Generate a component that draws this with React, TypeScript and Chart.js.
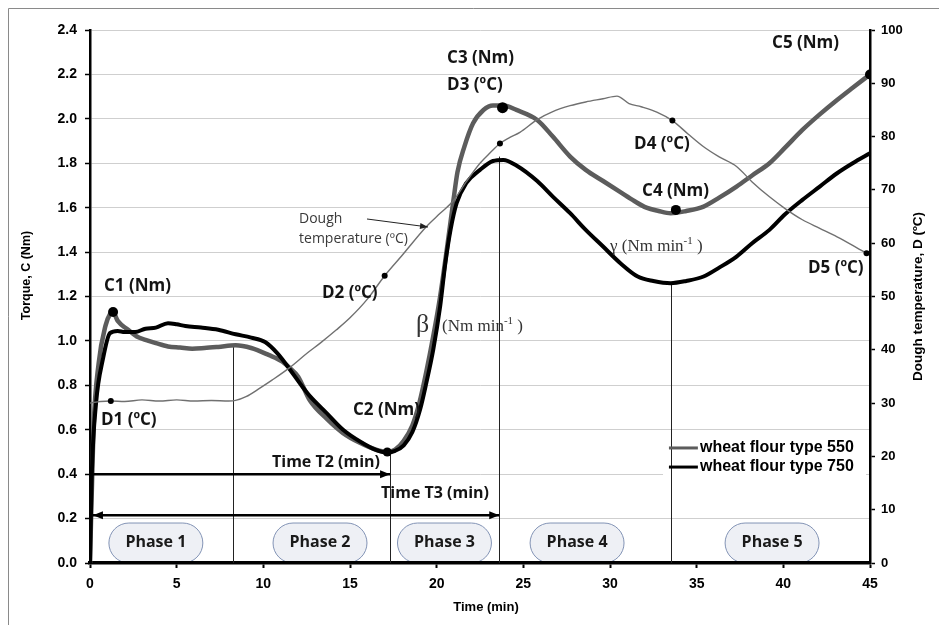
import React, { useEffect, useRef } from "react";
import { Chart, registerables } from "chart.js";

Chart.register(...registerables);

// ---------- data ----------
const flour550Time = [0, 0.2, 0.5, 0.9, 1.15, 1.33, 1.6, 2.2, 2.7, 3.2, 3.8, 4.5, 5.2, 5.9, 6.6, 7.4, 8.4, 9.3, 10.3, 11.1, 11.5, 12.0, 12.7, 13.65, 14.6, 15.6, 16.5, 17.1, 17.6, 18.1, 18.6, 19.0, 19.4, 19.8, 20.2, 20.6, 20.97, 21.2, 21.6, 22.1, 22.7, 23.25, 23.85, 24.6, 25.8, 26.7, 27.7, 28.6, 29.6, 30.6, 31.4, 32.1, 32.8, 33.5, 34.4, 35.4, 36.3, 37.3, 38.2, 39.2, 40.1, 41.1, 42.1, 43.1, 44.0, 45];
const flour550Torque = [0, 0.6, 0.9, 1.07, 1.12, 1.13, 1.09, 1.05, 1.02, 1.005, 0.99, 0.975, 0.97, 0.965, 0.968, 0.973, 0.98, 0.968, 0.937, 0.907, 0.88, 0.84, 0.73, 0.65, 0.585, 0.54, 0.51, 0.5, 0.51, 0.55, 0.62, 0.72, 0.86, 1.02, 1.2, 1.42, 1.635, 1.76, 1.875, 1.98, 2.04, 2.06, 2.06, 2.04, 1.995, 1.92, 1.83, 1.77, 1.72, 1.67, 1.63, 1.6, 1.585, 1.575, 1.585, 1.605, 1.645, 1.695, 1.745, 1.8, 1.87, 1.95, 2.02, 2.085, 2.14, 2.2];

const flour750Time = [0, 0.1, 0.35, 0.75, 1.15, 1.6, 2.0, 2.6, 3.2, 3.8, 4.5, 5.0, 5.5, 6.4, 7.4, 8.4, 9.3, 10.1, 10.8, 11.5, 12.1, 12.7, 13.65, 14.6, 15.6, 16.5, 17.1, 17.6, 18.1, 18.6, 19.04, 19.4, 19.8, 20.2, 20.5, 20.8, 21.15, 21.7, 22.5, 23.25, 23.85, 24.6, 25.8, 26.7, 27.7, 28.6, 29.6, 30.6, 31.6, 32.5, 33.5, 34.4, 35.4, 36.3, 37.3, 38.2, 39.2, 40.1, 41.1, 42.1, 43.1, 44.0, 45];
const flour750Torque = [0, 0.39, 0.72, 0.92, 1.035, 1.045, 1.04, 1.04, 1.055, 1.06, 1.08, 1.075, 1.067, 1.06, 1.05, 1.03, 1.015, 0.995, 0.945, 0.875, 0.81, 0.75, 0.675, 0.6, 0.546, 0.509, 0.497, 0.505, 0.53, 0.59, 0.69, 0.81, 0.96, 1.155, 1.35, 1.5, 1.62, 1.71, 1.77, 1.81, 1.815, 1.79, 1.72, 1.65, 1.575, 1.5, 1.425, 1.35, 1.29, 1.27, 1.26, 1.27, 1.29, 1.33, 1.38, 1.44, 1.5, 1.57, 1.635, 1.695, 1.755, 1.8, 1.845];

const tempTime = [0, 0.6, 1.2, 2, 3, 4, 5, 6, 7, 8, 8.4, 9, 9.8, 10.5, 11.5, 12.5, 13.3, 14.2, 15, 16, 17, 18, 19.4, 20.2, 21, 21.7, 22.5, 23.1, 23.65, 24.2, 24.8, 25.8, 26.7, 27.7, 28.6, 29.6, 30.4, 31.1, 31.8, 32.7, 33.6, 34.5, 35.4, 36.3, 37.3, 38.2, 39.2, 40.1, 41.1, 42.1, 43.1, 44, 44.8];
const tempValue = [30.0, 30.3, 30.4, 30.3, 30.6, 30.4, 30.6, 30.4, 30.5, 30.4, 30.5, 31.2, 32.8, 34.3, 36.6, 39.3, 41.3, 43.7, 46.0, 49.5, 53.9, 57.7, 63.1, 65.6, 68.1, 71.5, 75.0, 77.0, 78.7, 79.8, 80.8, 83.2, 84.7, 85.8, 86.5, 87.1, 87.6, 86.2, 85.6, 84.6, 83.0, 80.5, 78.1, 76.2, 74.4, 71.5, 68.7, 66.5, 64.4, 62.8, 61.2, 59.6, 58.1];

const cPointTime = [1.33, 17.15, 23.8, 33.8, 45];
const cPointTorque = [1.13, 0.5, 2.05, 1.59, 2.2];
const cPointLabels = ["C1 (Nm)", "C2 (Nm)", "C3 (Nm)", "C4 (Nm)", "C5 (Nm)"];
const dPointTime = [1.2, 17.0, 23.65, 33.6, 44.8];
const dPointTemp = [30.4, 53.9, 78.7, 83.0, 58.1];
const dPointLabels = ["D1 (\u00baC)", "D2 (\u00baC)", "D3 (\u00baC)", "D4 (\u00baC)", "D5 (\u00baC)"];

const phaseLabels = ["Phase 1", "Phase 2", "Phase 3", "Phase 4", "Phase 5"];
const phaseCenters = [3.8, 13.27, 20.45, 28.1, 39.35];
const phaseBoundaryTime = [8.27, 17.31, 23.61, 33.5];
const phaseBoundaryTorque = [0.98, 0.5, 1.83, 1.26];

const timeT2 = 17.31;
const timeT3 = 23.61;
const seriesLabels = ["wheat flour type 550", "wheat flour type 750"];
const xTitle = "Time (min)";
const yTitle = "Torque, C (Nm)";
const y2Title = "Dough temperature, D (\u00baC)";

const pts = (xs: number[], ys: number[]) => xs.map((x, i) => ({ x, y: ys[i] }));

const GRAY = "#5c5c5c";
const SANS = "'Liberation Sans', Arial, sans-serif";
const OPEN = "'Open Sans', 'Noto Sans', sans-serif";
const SERIF = "'Liberation Serif', 'DejaVu Serif', serif";

function arrow(ctx: CanvasRenderingContext2D, x1: number, y1: number, x2: number, y2: number, startHead: boolean, endHead: boolean, lw: number, hl: number, hw: number) {
  ctx.lineWidth = lw;
  ctx.beginPath();
  ctx.moveTo(x1, y1);
  ctx.lineTo(x2, y2);
  ctx.stroke();
  const ang = Math.atan2(y2 - y1, x2 - x1);
  const head = (x: number, y: number, a: number) => {
    ctx.beginPath();
    ctx.moveTo(x, y);
    ctx.lineTo(x - hl * Math.cos(a) + hw * Math.sin(a), y - hl * Math.sin(a) - hw * Math.cos(a));
    ctx.lineTo(x - hl * Math.cos(a) - hw * Math.sin(a), y - hl * Math.sin(a) + hw * Math.cos(a));
    ctx.closePath();
    ctx.fill();
  };
  if (endHead) head(x2, y2, ang);
  if (startHead) head(x1, y1, ang + Math.PI);
}

function supText(ctx: CanvasRenderingContext2D, x: number, y: number, main: string, sup: string, tail: string, size: number) {
  ctx.textAlign = "left";
  ctx.textBaseline = "middle";
  ctx.font = `${size}px ${SERIF}`;
  ctx.fillText(main, x, y);
  let cx = x + ctx.measureText(main).width;
  ctx.font = `${Math.round(size * 0.62)}px ${SERIF}`;
  ctx.fillText(sup, cx, y - size * 0.32);
  cx += ctx.measureText(sup).width;
  ctx.font = `${size}px ${SERIF}`;
  ctx.fillText(tail, cx, y);
}

export default function App() {
  const ref = useRef<HTMLCanvasElement>(null);

  useEffect(() => {
    const canvas = ref.current!;
    const overlay = {
      id: "overlay",
      beforeDatasetsDraw(chart: any) {
        const { ctx, chartArea } = chart;
        const xs = chart.scales.x, ys = chart.scales.y;
        const X = (v: number) => xs.getPixelForValue(v);
        const Y = (v: number) => ys.getPixelForValue(v);
        ctx.save();
        // legend background
        ctx.fillStyle = "#ffffff";
        ctx.fillRect(X(33.06), Y(0.567), X(44.77) - X(33.06), Y(0.374) - Y(0.567));
        // phase boundaries
        ctx.strokeStyle = "#222";
        ctx.lineWidth = 1;
        phaseBoundaryTime.forEach((t, i) => {
          const px = Math.round(X(t)) + 0.5;
          ctx.beginPath();
          ctx.moveTo(px, Y(0));
          ctx.lineTo(px, Y(phaseBoundaryTorque[i]));
          ctx.stroke();
        });
        // phase pills
        ctx.save();
        ctx.beginPath();
        ctx.rect(chartArea.left, chartArea.top, chartArea.right - chartArea.left, Y(0) - 2 - chartArea.top);
        ctx.clip();
        phaseCenters.forEach((c, i) => {
          const l = X(c - 2.71), r = X(c + 2.71);
          const top = Y(0.18), bot = Y(0);
          const rad = (bot - top) / 2;
          const my = (top + bot) / 2;
          ctx.beginPath();
          ctx.moveTo(l + rad, top);
          ctx.lineTo(r - rad, top);
          ctx.arc(r - rad, my, rad, -Math.PI / 2, Math.PI / 2);
          ctx.lineTo(l + rad, bot);
          ctx.arc(l + rad, my, rad, Math.PI / 2, (3 * Math.PI) / 2);
          ctx.closePath();
          ctx.fillStyle = "#eef0f5";
          ctx.fill();
          ctx.strokeStyle = "#8293b5";
          ctx.lineWidth = 1;
          ctx.stroke();
          ctx.fillStyle = "#1a1a1a";
          ctx.font = `bold 16px ${OPEN}`;
          ctx.textAlign = "center";
          ctx.textBaseline = "middle";
          ctx.fillText(phaseLabels[i], X(c), my - 1);
        });
        ctx.restore();
        ctx.restore();
      },
      afterDatasetsDraw(chart: any) {
        const { ctx } = chart;
        const xs = chart.scales.x, ys = chart.scales.y;
        const X = (v: number) => xs.getPixelForValue(v);
        const Y = (v: number) => ys.getPixelForValue(v);
        ctx.save();
        ctx.fillStyle = "#000";
        ctx.strokeStyle = "#000";
        // T2 and T3 arrows
        arrow(ctx, X(0), Y(0.4), X(timeT2), Y(0.4), false, true, 2.5, 10, 4);
        arrow(ctx, X(0.17), Y(0.215), X(timeT3), Y(0.215), true, true, 2.5, 10, 4);
        // dough temperature pointer
        ctx.strokeStyle = "#222";
        ctx.fillStyle = "#222";
        arrow(ctx, X(15.98), Y(1.549), X(19.5), Y(1.513), false, true, 1, 8, 3);

        // annotation labels
        ctx.fillStyle = "#141414";
        ctx.textAlign = "left";
        ctx.textBaseline = "middle";
        ctx.font = `bold 17px ${OPEN}`;
        const cPos = [[0.81, 1.247], [15.17, 0.689], [20.6, 2.274], [31.85, 1.675], [39.35, 2.342]];
        const dPos = [[0.63, 0.644], [13.38, 1.216], [20.6, 2.152], [31.39, 1.887], [41.42, 1.328]];
        cPointLabels.forEach((s, i) => ctx.fillText(s, X(cPos[i][0]), Y(cPos[i][1])));
        dPointLabels.forEach((s, i) => ctx.fillText(s, X(dPos[i][0]), Y(dPos[i][1])));
        ctx.font = `bold 16px ${OPEN}`;
        ctx.fillText("Time T2 (min)", X(10.5), Y(0.455));
        ctx.fillText("Time T3 (min)", X(16.79), Y(0.315));

        ctx.fillStyle = "#3a3a3a";
        ctx.font = `14px ${OPEN}`;
        ctx.fillText("Dough", X(12.06), Y(1.549));
        ctx.fillText("temperature (\u00baC)", X(12.06), Y(1.459));

        // beta / gamma
        ctx.fillStyle = "#333";
        ctx.font = `26px ${SERIF}`;
        ctx.fillText("\u03b2", X(18.81), Y(1.072));
        supText(ctx, X(20.31), Y(1.063), "(Nm min", "-1", " )", 17);
        supText(ctx, X(30.0), Y(1.427), "\u03b3 (Nm min", "-1", " )", 17);

        // legend
        const lx1 = X(33.4), lx2 = X(35.07), tx = X(35.19);
        const ly = [Y(0.518), Y(0.432)];
        const lc = [GRAY, "#000"];
        ly.forEach((yy, i) => {
          ctx.strokeStyle = lc[i];
          ctx.lineWidth = 3;
          ctx.beginPath();
          ctx.moveTo(lx1, yy);
          ctx.lineTo(lx2, yy);
          ctx.stroke();
          ctx.fillStyle = "#000";
          ctx.font = `bold 16px ${SANS}`;
          ctx.textAlign = "left";
          ctx.textBaseline = "middle";
          ctx.fillText(seriesLabels[i], tx, yy);
        });
        ctx.restore();
      },
      afterDraw(chart: any) {
        const { ctx, chartArea } = chart;
        ctx.save();
        ctx.fillStyle = "#000";
        ctx.textAlign = "center";
        ctx.textBaseline = "middle";
        // left title
        ctx.save();
        ctx.translate(27, (chartArea.top + chartArea.bottom) / 2 - 21);
        ctx.rotate(-Math.PI / 2);
        ctx.font = `bold 12.5px ${SANS}`;
        ctx.fillText(yTitle, 0, 0);
        ctx.restore();
        // right title
        ctx.save();
        ctx.translate(918, (chartArea.top + chartArea.bottom) / 2);
        ctx.rotate(-Math.PI / 2);
        ctx.font = `bold 13.5px ${SANS}`;
        ctx.fillText(y2Title, 0, 0);
        ctx.restore();
        // bottom title
        ctx.font = `bold 13px ${SANS}`;
        ctx.fillText(xTitle, (chartArea.left + chartArea.right) / 2 + 6, 607);
        // frame
        ctx.strokeStyle = "#8a8a8a";
        ctx.lineWidth = 1;
        ctx.beginPath();
        ctx.moveTo(8.5, 625);
        ctx.lineTo(8.5, 8.5);
        ctx.lineTo(939, 8.5);
        ctx.stroke();
        ctx.restore();
      },
    };

    const chart = new Chart(canvas, {
      type: "line",
      data: {
        datasets: [
          {
            label: "C markers",
            data: pts(cPointTime, cPointTorque),
            yAxisID: "y",
            showLine: false,
            pointRadius: [5, 4.5, 5.5, 5, 5],
            pointBackgroundColor: "#000",
            pointBorderColor: "#000",
            pointBorderWidth: 0,
            order: 0,
          },
          {
            label: "D markers",
            data: pts(dPointTime, dPointTemp),
            yAxisID: "y2",
            showLine: false,
            pointRadius: 3,
            pointBackgroundColor: "#000",
            pointBorderColor: "#000",
            pointBorderWidth: 0,
            order: 1,
          },
          {
            label: "Dough temperature",
            data: pts(tempTime, tempValue),
            yAxisID: "y2",
            borderColor: "#707070",
            borderWidth: 1.4,
            pointRadius: 0,
            cubicInterpolationMode: "monotone",
            order: 2,
          },
          {
            label: seriesLabels[1],
            data: pts(flour750Time, flour750Torque),
            yAxisID: "y",
            borderColor: "#000",
            borderWidth: 4,
            pointRadius: 0,
            cubicInterpolationMode: "monotone",
            order: 3,
          },
          {
            label: seriesLabels[0],
            data: pts(flour550Time, flour550Torque),
            yAxisID: "y",
            borderColor: GRAY,
            borderWidth: 4.5,
            pointRadius: 0,
            cubicInterpolationMode: "monotone",
            order: 4,
          },
        ],
      },
      options: {
        responsive: false,
        animation: false,
        parsing: true,
        layout: { padding: { top: 30, left: 0, right: 0, bottom: 0 } },
        plugins: { legend: { display: false }, tooltip: { enabled: false } },
        scales: {
          x: {
            type: "linear",
            min: 0,
            max: 45,
            afterFit: (s: any) => { s.height = 62; },
            ticks: { stepSize: 5, color: "#000", padding: 8, font: { family: SANS, size: 14, weight: "bold" } },
            grid: { drawOnChartArea: false, drawTicks: true, tickLength: 5, tickColor: "#000", tickWidth: 2 },
            border: { display: true, color: "#000", width: 3.5 },
          },
          y: {
            type: "linear",
            position: "left",
            min: 0,
            max: 2.4,
            afterFit: (s: any) => { s.width = 90; },
            ticks: {
              stepSize: 0.2,
              color: "#000",
              padding: 8,
              font: { family: SANS, size: 14, weight: "bold" },
              callback: (v: any) => Number(v).toFixed(1),
            },
            grid: { color: "#cfcfcf", lineWidth: 1, drawTicks: true, tickLength: 5, tickColor: "#000", tickWidth: 1.5 },
            border: { display: true, color: "#000", width: 2.5 },
          },
          y2: {
            type: "linear",
            position: "right",
            min: 0,
            max: 100,
            afterFit: (s: any) => { s.width = 69; },
            ticks: { stepSize: 10, color: "#000", padding: 6, font: { family: SANS, size: 13, weight: "bold" } },
            grid: { drawOnChartArea: false, drawTicks: true, tickLength: 5, tickColor: "#000", tickWidth: 1.5 },
            border: { display: true, color: "#000", width: 2.5 },
          },
        },
      },
      plugins: [overlay],
    } as any);

    return () => chart.destroy();
  }, []);

  return (
    <div style={{ position: "absolute", left: 0, top: 0, width: 939, height: 625, background: "#fff" }}>
      <canvas ref={ref} width={939} height={625} style={{ display: "block", width: 939, height: 625 }} />
    </div>
  );
}
